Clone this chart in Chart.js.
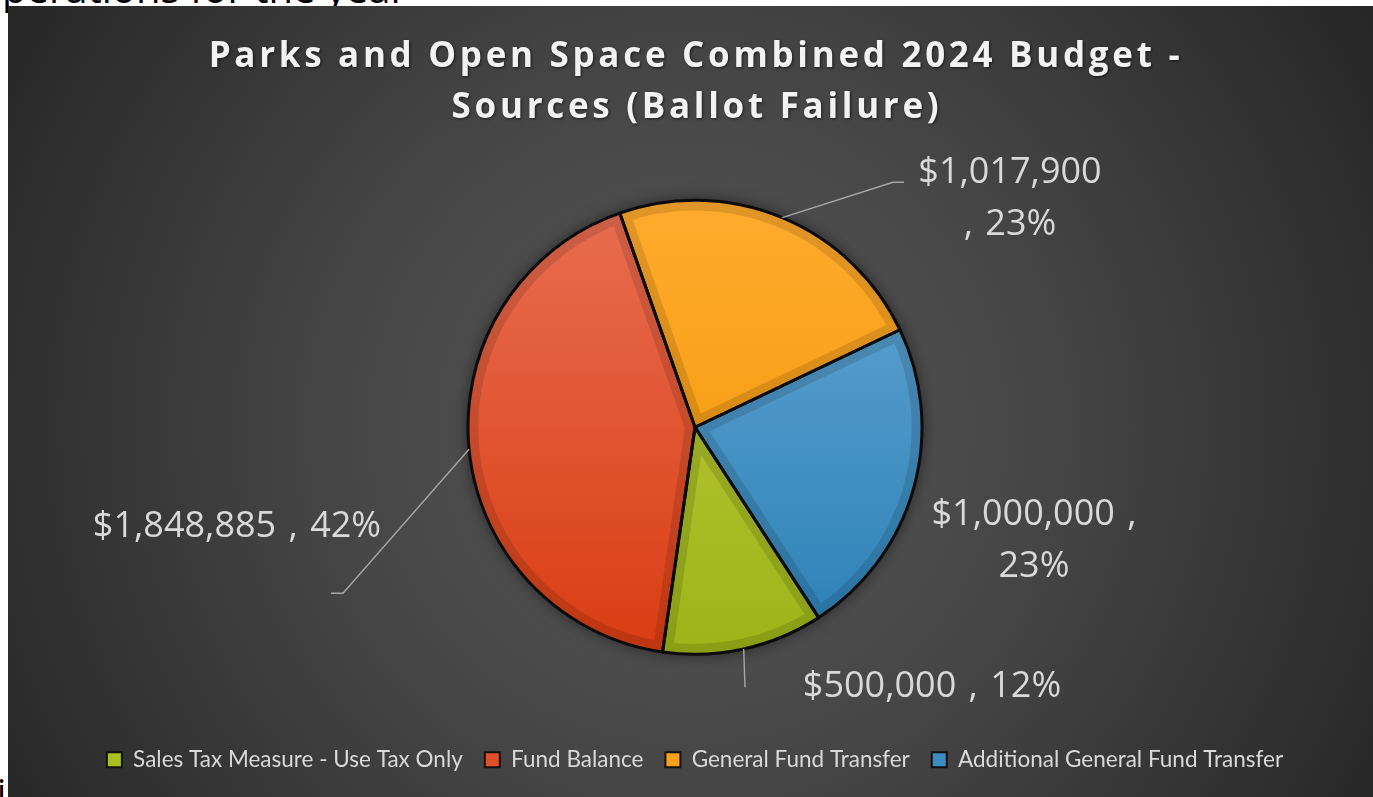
<!DOCTYPE html>
<html>
<head>
<meta charset="utf-8">
<title>Parks and Open Space Combined 2024 Budget - Sources</title>
<script src="https://cdn.jsdelivr.net/npm/chart.js@4.4.1/dist/chart.umd.min.js"></script>
<style>
  body { margin:0; background:#fff; overflow:hidden; width:1373px; height:797px; position:relative; }
  .pageText { position:absolute; font-family:"Open Sans", sans-serif; color:#000; white-space:nowrap; }
  #topLine { left:2px; top:-32px; font-size:40px; line-height:40px; }
  #bottomLine { left:-3px; top:774px; font-size:36px; line-height:36px; }
  #chartBox { position:absolute; left:8px; top:6px; width:1365px; height:791px; }
</style>
</head>
<body>
<div class="pageText" id="topLine">perations for the year</div>
<div class="pageText" id="bottomLine">i</div>
<div id="chartBox"><canvas id="sourcesChart"></canvas></div>
<script>
const sources = ['Sales Tax Measure - Use Tax Only', 'Fund Balance', 'General Fund Transfer', 'Additional General Fund Transfer']
const amounts = [500000, 1848885, 1017900, 1000000]
const shownPercents = [12, 42, 23, 23]
const titleLines = ['Parks and Open Space Combined 2024 Budget -', 'Sources (Ballot Failure)']

// flat colour for legend boxes, light/dark ends for the slice gradients
const sliceColors = ['#a9bf22', '#e0502a', '#f9a11a', '#3b8dc1']
const sliceTops = ['#c2cf40', '#e86e52', '#ffab2e', '#66a7d2']
const sliceBottoms = ['#9cb418', '#d93d12', '#f09400', '#2a80b7']

// where each value label sits, relative to the pie centre (px); leader points too
const labelLayout = [
  {dx: 237, dy: 270, split: null, leader: [[50, 260]]},
  {dx: -458, dy: 110, split: null, leader: [[-352, 166], [-364, 166]]},
  {dx: 315, dy: -244, split: 'before', leader: [[198, -245], [209, -245]]},
  {dx: 339, dy: 98, split: 'after', leader: null}
]

function money(v){
    return '$' + v.toLocaleString('en-US')
}

function labelLines(i){
    let amount = money(amounts[i])
    let pct = shownPercents[i] + '%'
    let split = labelLayout[i].split
    if(split == 'before') return [amount, ', ' + pct]
    if(split == 'after') return [amount + ' ,', pct]
    return [amount + ' , ' + pct]
}

function sliceFill(context){
    let i = context.dataIndex
    let chart = context.chart
    let area = chart.chartArea
    if(!area) return sliceColors[i]
    let cy = (area.top + area.bottom) / 2
    let g = chart.ctx.createLinearGradient(0, cy - 227, 0, cy + 227)
    g.addColorStop(0, sliceTops[i])
    g.addColorStop(1, sliceBottoms[i])
    return g
}

function legendItems(chart){
    let items = Chart.overrides.pie.plugins.legend.labels.generateLabels(chart)
    items.forEach((item, i) => {
        item.fillStyle = sliceColors[i]
        item.strokeStyle = '#111'
        item.lineWidth = 2
    })
    return items
}

// dark radial backdrop plus the letter-spaced title
const backdrop = {
    id: 'backdrop',
    beforeDraw(chart){
        let {ctx, width, height} = chart
        ctx.save()
        let g = ctx.createRadialGradient(680, 420, 0, 680, 420, 820)
        g.addColorStop(0, '#585858')
        g.addColorStop(0.45, '#454545')
        g.addColorStop(1, '#252525')
        ctx.fillStyle = g
        ctx.fillRect(0, 0, width, height)

        ctx.font = 'bold 35px "Open Sans"'
        ctx.letterSpacing = '3.7px'
        ctx.textAlign = 'center'
        ctx.textBaseline = 'alphabetic'
        ctx.fillStyle = '#f2f2f2'
        ctx.shadowColor = 'rgba(0,0,0,0.6)'
        ctx.shadowBlur = 3
        ctx.shadowOffsetX = 1
        ctx.shadowOffsetY = 1
        ctx.fillText(titleLines[0], 688, 61)
        ctx.fillText(titleLines[1], 689, 112)
        ctx.restore()
    },
    beforeDatasetsDraw(chart){
        // soft shadow under the pie
        let arc = chart.getDatasetMeta(0).data[0]
        if(!arc) return
        let ctx = chart.ctx
        ctx.save()
        ctx.shadowColor = 'rgba(0,0,0,0.55)'
        ctx.shadowBlur = 16
        ctx.fillStyle = '#222'
        ctx.beginPath()
        ctx.arc(arc.x, arc.y, arc.outerRadius, 0, Math.PI * 2)
        ctx.fill()
        ctx.restore()
    }
}

// black outline round every slice, then the value labels with leader lines
const sliceLabels = {
    id: 'sliceLabels',
    afterDatasetsDraw(chart){
        let ctx = chart.ctx
        let arcs = chart.getDatasetMeta(0).data
        ctx.save()
        ctx.strokeStyle = '#0b0b0b'
        ctx.lineWidth = 3
        ctx.lineJoin = 'round'
        arcs.forEach((arc) => {
            ctx.beginPath()
            ctx.moveTo(arc.x, arc.y)
            ctx.arc(arc.x, arc.y, arc.outerRadius, arc.startAngle, arc.endAngle)
            ctx.closePath()
            ctx.stroke()
        })

        ctx.font = '36px "Open Sans"'
        ctx.wordSpacing = '3px'
        ctx.textAlign = 'center'
        ctx.textBaseline = 'alphabetic'
        arcs.forEach((arc, i) => {
            let layout = labelLayout[i]
            if(layout.leader){
                let mid = (arc.startAngle + arc.endAngle) / 2
                ctx.strokeStyle = '#a6a6a6'
                ctx.lineWidth = 1.4
                ctx.beginPath()
                ctx.moveTo(arc.x + Math.cos(mid) * arc.outerRadius, arc.y + Math.sin(mid) * arc.outerRadius)
                layout.leader.forEach((p) => ctx.lineTo(arc.x + p[0], arc.y + p[1]))
                ctx.stroke()
            }
            ctx.fillStyle = '#d9d9d9'
            labelLines(i).forEach((line, n) => {
                ctx.fillText(line, arc.x + layout.dx, arc.y + layout.dy + n * 52)
            })
        })
        ctx.restore()
    }
}

function renderPie(){
    new Chart(document.querySelector('#sourcesChart'), {
        type: 'pie',
        data: {
            labels: sources,
            datasets: [{
                data: amounts,
                backgroundColor: sliceFill,
                borderColor: 'rgba(0,0,0,0.12)',
                borderWidth: 10,
                borderAlign: 'inner',
                hoverOffset: 0
            }]
        },
        options: {
            responsive: true,
            maintainAspectRatio: false,
            animation: false,
            events: [],
            rotation: 147,
            radius: 227,
            layout: {padding: {top: 122, bottom: 16, left: 9, right: 0}},
            plugins: {
                title: {display: false},
                tooltip: {enabled: false},
                legend: {
                    position: 'bottom',
                    labels: {
                        color: '#d9d9d9',
                        font: {family: 'Lato', size: 22.5},
                        boxWidth: 15,
                        boxHeight: 15,
                        padding: 22,
                        generateLabels: legendItems
                    }
                }
            }
        },
        plugins: [backdrop, sliceLabels]
    })
}

renderPie()
</script>
</body>
</html>
